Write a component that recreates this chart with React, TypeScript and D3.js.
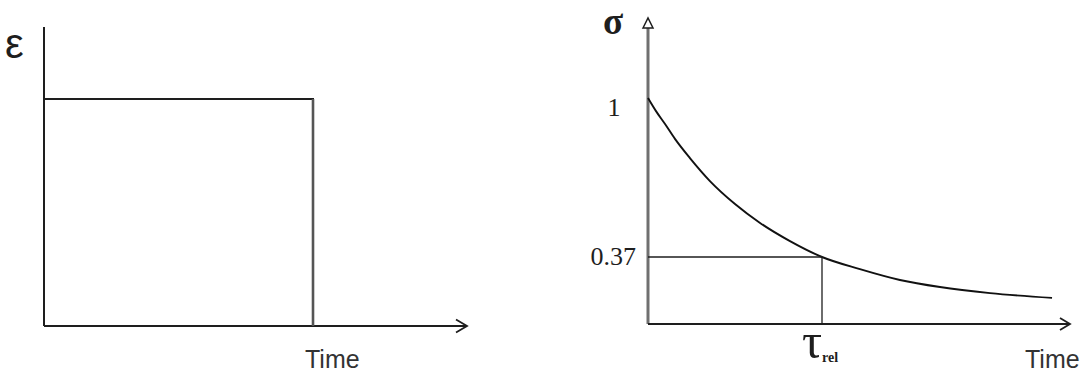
import React from "react";
import * as d3 from "d3";

// Strain step input (left): strain held at ε = 1 from t = 0 until t = 1, then released
const stepTimes = [0, 1, 1];
const stepStrain = [1, 1, 0];

// Stress relaxation response (right): time in units of τ_rel, stress normalised to σ(0) = 1
const relaxTimes = [0, 0.046, 0.098, 0.155, 0.241, 0.356, 0.5, 0.644, 0.816, 1, 1.218, 1.448, 1.678, 1.966, 2.322];
const relaxStress = [1, 0.948, 0.897, 0.838, 0.762, 0.671, 0.58, 0.505, 0.433, 0.37, 0.322, 0.279, 0.251, 0.227, 0.208];

// Marked stress levels on the σ axis and the marked time
const stressTicks = [1, 0.37];
const stressTickLabels = ["1", "0.37"];
const tauValue = 1;

const W = 1092;
const H = 374;

export default function App() {
  // ---- left panel scales ----
  const xL = d3.scaleLinear().domain([0, 1]).range([44, 313]);
  const yL = d3.scaleLinear().domain([0, 1]).range([326, 99]);
  const leftXEnd = xL.invert(467);
  const leftYTop = yL.invert(27);

  // ---- right panel scales ----
  const xR = d3.scaleLinear().domain([0, 1]).range([648, 822]);
  const yR = d3.scaleLinear().domain([0.37, 1]).range([257, 98]);
  const rightBase = yR.invert(324);
  const rightXEnd = xR.invert(1070);
  const rightYTop = yR.invert(18);

  const stepLine = d3
    .line<number>()
    .x((_, i) => xL(stepTimes[i]))
    .y((_, i) => yL(stepStrain[i]))
    .curve(d3.curveLinear);

  const relaxLine = d3
    .line<number>()
    .x((_, i) => xR(relaxTimes[i]))
    .y((_, i) => yR(relaxStress[i]))
    .curve(d3.curveMonotoneX);

  const ink = "#1e1e1e";
  const serif = "'Liberation Serif', 'DejaVu Serif', serif";
  const sans = "'Liberation Sans', Arial, sans-serif";

  // open chevron arrowhead pointing right at (x, y)
  const chevronRight = (x: number, y: number, len: number, half: number) =>
    `M${x - len},${y - half} L${x},${y} L${x - len},${y + half}`;

  const tauX = xR(tauValue);
  const tauY = yR(0.37);

  return (
    <svg
      width={W}
      height={H}
      viewBox={`0 0 ${W} ${H}`}
      style={{ position: "absolute", left: 0, top: 0, background: "#fff" }}
    >
      <rect x={0} y={0} width={W} height={H} fill="#fff" />

      {/* ===== Left: applied strain ===== */}
      <g>
        <line x1={xL(0)} y1={yL(leftYTop)} x2={xL(0)} y2={yL(0)} stroke={ink} strokeWidth={2} />
        <line x1={xL(0)} y1={yL(0)} x2={xL(leftXEnd)} y2={yL(0)} stroke={ink} strokeWidth={1.8} />
        <path d={chevronRight(xL(leftXEnd), yL(0), 11, 6.5)} fill="none" stroke={ink} strokeWidth={1.8} />
        <path d={stepLine(stepTimes) ?? ""} fill="none" stroke={ink} strokeWidth={2} />
        <line x1={xL(1)} y1={yL(1)} x2={xL(1)} y2={yL(0)} stroke="#555" strokeWidth={2.6} />
        <text x={5} y={58} fontFamily={sans} fontSize={42} fill={ink}>
          ε
        </text>
        <text x={305} y={368} fontFamily={sans} fontSize={25} fill="#333">
          Time
        </text>
      </g>

      {/* ===== Right: stress relaxation ===== */}
      <g>
        <line
          x1={xR(0)}
          y1={yR(rightYTop) + 2}
          x2={xR(0)}
          y2={yR(rightBase)}
          stroke="#707070"
          strokeWidth={3}
        />
        <path
          d={`M${xR(0) - 5},${yR(rightYTop) + 10} L${xR(0)},${yR(rightYTop)} L${xR(0) + 5},${yR(rightYTop) + 10} Z`}
          fill="#fff"
          stroke={ink}
          strokeWidth={1.5}
        />
        <line x1={xR(0)} y1={yR(rightBase)} x2={xR(rightXEnd)} y2={yR(rightBase)} stroke={ink} strokeWidth={1.8} />
        <path d={chevronRight(xR(rightXEnd), yR(rightBase), 10, 6)} fill="none" stroke={ink} strokeWidth={1.8} />

        <path d={relaxLine(relaxTimes) ?? ""} fill="none" stroke="#111" strokeWidth={1.9} />

        {/* τ_rel marker lines */}
        <line x1={xR(0)} y1={tauY} x2={tauX} y2={tauY} stroke={ink} strokeWidth={1.5} />
        <line x1={tauX} y1={tauY} x2={tauX} y2={yR(rightBase)} stroke={ink} strokeWidth={1.3} />

        {/* stress tick labels */}
        {stressTicks.map((v, i) => (
          <text
            key={stressTickLabels[i]}
            x={i === 0 ? 614 : 636}
            y={yR(v) + (i === 0 ? 18 : 8)}
            fontFamily={serif}
            fontSize={26}
            textAnchor={i === 0 ? "middle" : "end"}
            fill={ink}
          >
            {stressTickLabels[i]}
          </text>
        ))}

        <text x={603} y={34} fontFamily={serif} fontSize={37} fontWeight="bold" fill={ink}>
          σ
        </text>

        <text x={tauX - 20} y={358} fontFamily={serif} fontSize={50} fill={ink}>
          τ
          <tspan fontSize={14} fontWeight="bold" dy={4}>
            rel
          </tspan>
        </text>

        <text x={1025} y={368} fontFamily={sans} fontSize={25} fill="#333">
          Time
        </text>
      </g>
    </svg>
  );
}
